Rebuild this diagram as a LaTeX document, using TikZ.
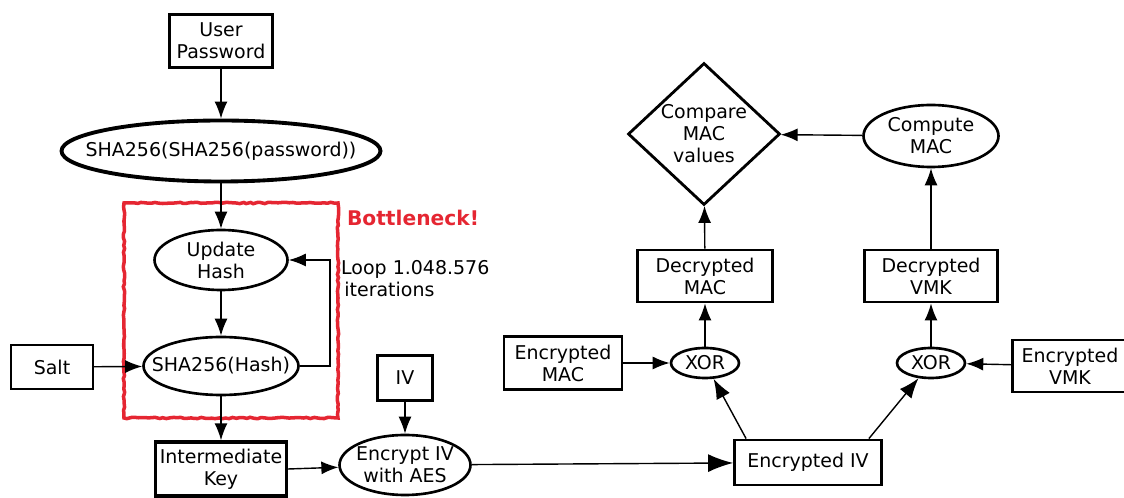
\documentclass[tikz,border=0pt]{standalone}
\usepackage{fontspec}
\setmainfont{DejaVu Sans}
\usetikzlibrary{shapes.geometric,arrows.meta,decorations.pathmorphing}
\definecolor{gargalo}{RGB}{229,38,50}

\begin{document}
\begin{tikzpicture}[
	every node/.style={font=\fontsize{10.8}{12.5}\selectfont, align=center},
	caixa/.style={draw, line width=1.6pt, inner sep=1pt},
	elipse/.style={draw, ellipse, line width=1.5pt, inner xsep=-25pt, inner ysep=-4pt},
	losango/.style={draw, diamond, line width=1.6pt, inner sep=-6pt},
	seta/.style={-{Latex[length=3.4mm,width=2.6mm]}, line width=0.8pt},
	setagrande/.style={-{Latex[length=5mm,width=3.6mm]}, line width=0.8pt}
	]
	\useasboundingbox (0,0) rectangle (22.48,9.96);
	
	% Moldura vermelha do gargalo
	\draw[gargalo, line width=2pt, decorate,
		decoration={random steps, segment length=2pt, amplitude=0.4pt}]
		(2.48,5.90) rectangle (6.76,1.60);
	\node[gargalo, font=\fontsize{11.5}{14}\selectfont\bfseries] (gargalo) at (8.26,5.60) {Bottleneck!};
	
	% Derivacao da chave a partir da senha
	\node[caixa, minimum width=2.06cm, minimum height=1.06cm] (senha) at (4.42,9.14) {User\\Password};
	\node[elipse, line width=2.2pt, minimum width=6.38cm, minimum height=1.22cm] (sha) at (4.42,6.94) {SHA256(SHA256(password))};
	\node[elipse, minimum width=2.66cm, minimum height=1.20cm] (atualiza) at (4.42,4.76) {Update\\Hash};
	\node[elipse, minimum width=3.10cm, minimum height=1.16cm] (hash) at (4.42,2.64) {SHA256(Hash)};
	\node[caixa, line width=1.3pt, minimum width=1.64cm, minimum height=0.88cm] (sal) at (1.04,2.62) {Salt};
	\node[caixa, line width=1.9pt, minimum width=2.62cm, minimum height=1.08cm] (chave) at (4.42,0.58) {Intermediate\\Key};
	\coordinate (volta) at (6.60,4.76);
	\node[anchor=west, align=left] (laco) at (6.70,4.38) {Loop 1.048.576\\\,iterations};
	
	% Cifra do IV
	\node[caixa, minimum width=1.10cm, minimum height=0.90cm] (iv) at (8.10,2.40) {IV};
	\node[elipse, minimum width=2.62cm, minimum height=1.20cm] (cifra) at (8.10,0.66) {Encrypt IV\\with AES};
	\node[caixa, minimum width=2.94cm, minimum height=0.90cm] (ivcifrado) at (16.16,0.71) {Encrypted IV};
	
	% Lado do MAC
	\node[elipse, minimum width=1.36cm, minimum height=0.60cm] (xormac) at (14.10,2.70) {XOR};
	\node[caixa, minimum width=2.36cm, minimum height=1.06cm] (macc) at (11.26,2.70) {Encrypted\\MAC};
	\node[caixa, minimum width=2.70cm, minimum height=1.04cm] (macd) at (14.10,4.44) {Decrypted\\MAC};
	\node[losango, minimum width=3.04cm, minimum height=2.84cm] (compara) at (14.08,7.28) {Compare\\MAC\\values};
	
	% Lado da VMK
	\node[elipse, minimum width=1.36cm, minimum height=0.60cm] (xorvmk) at (18.62,2.70) {XOR};
	\node[caixa, minimum width=2.30cm, minimum height=1.04cm] (vmkc) at (21.40,2.64) {Encrypted\\VMK};
	\node[caixa, minimum width=2.66cm, minimum height=1.04cm] (vmkd) at (18.62,4.44) {Decrypted\\VMK};
	\node[elipse, minimum width=2.70cm, minimum height=1.24cm] (calcmac) at (18.62,7.24) {Compute\\MAC};
	
	% Setas
	\draw[seta] (senha) -- (sha);
	\draw[seta] (sha) -- (atualiza);
	\draw[seta] (atualiza) -- (hash);
	\draw[seta] (sal) -- (hash);
	\draw[seta] (hash.east) -| (volta) -- (atualiza.east);
	\draw[seta] (hash) -- (chave);
	\draw[seta] (chave.east) -- (cifra);
	\draw[seta] (iv) -- (cifra);
	\draw[setagrande] (cifra) -- (ivcifrado);
	\draw[seta, -{Latex[length=4mm,width=3mm]}] (ivcifrado.north west) ++(0.26,0) -- (xormac);
	\draw[seta, -{Latex[length=4mm,width=3mm]}] (ivcifrado.north east) ++(-0.28,0) -- (xorvmk);
	\draw[seta] (macc) -- (xormac);
	\draw[seta] (vmkc) -- (xorvmk);
	\draw[seta] (xormac) -- (macd);
	\draw[seta] (xorvmk) -- (vmkd);
	\draw[seta] (macd) -- (compara);
	\draw[seta] (vmkd) -- (calcmac);
	\draw[seta] (calcmac) -- (compara);
\end{tikzpicture}
\end{document}
